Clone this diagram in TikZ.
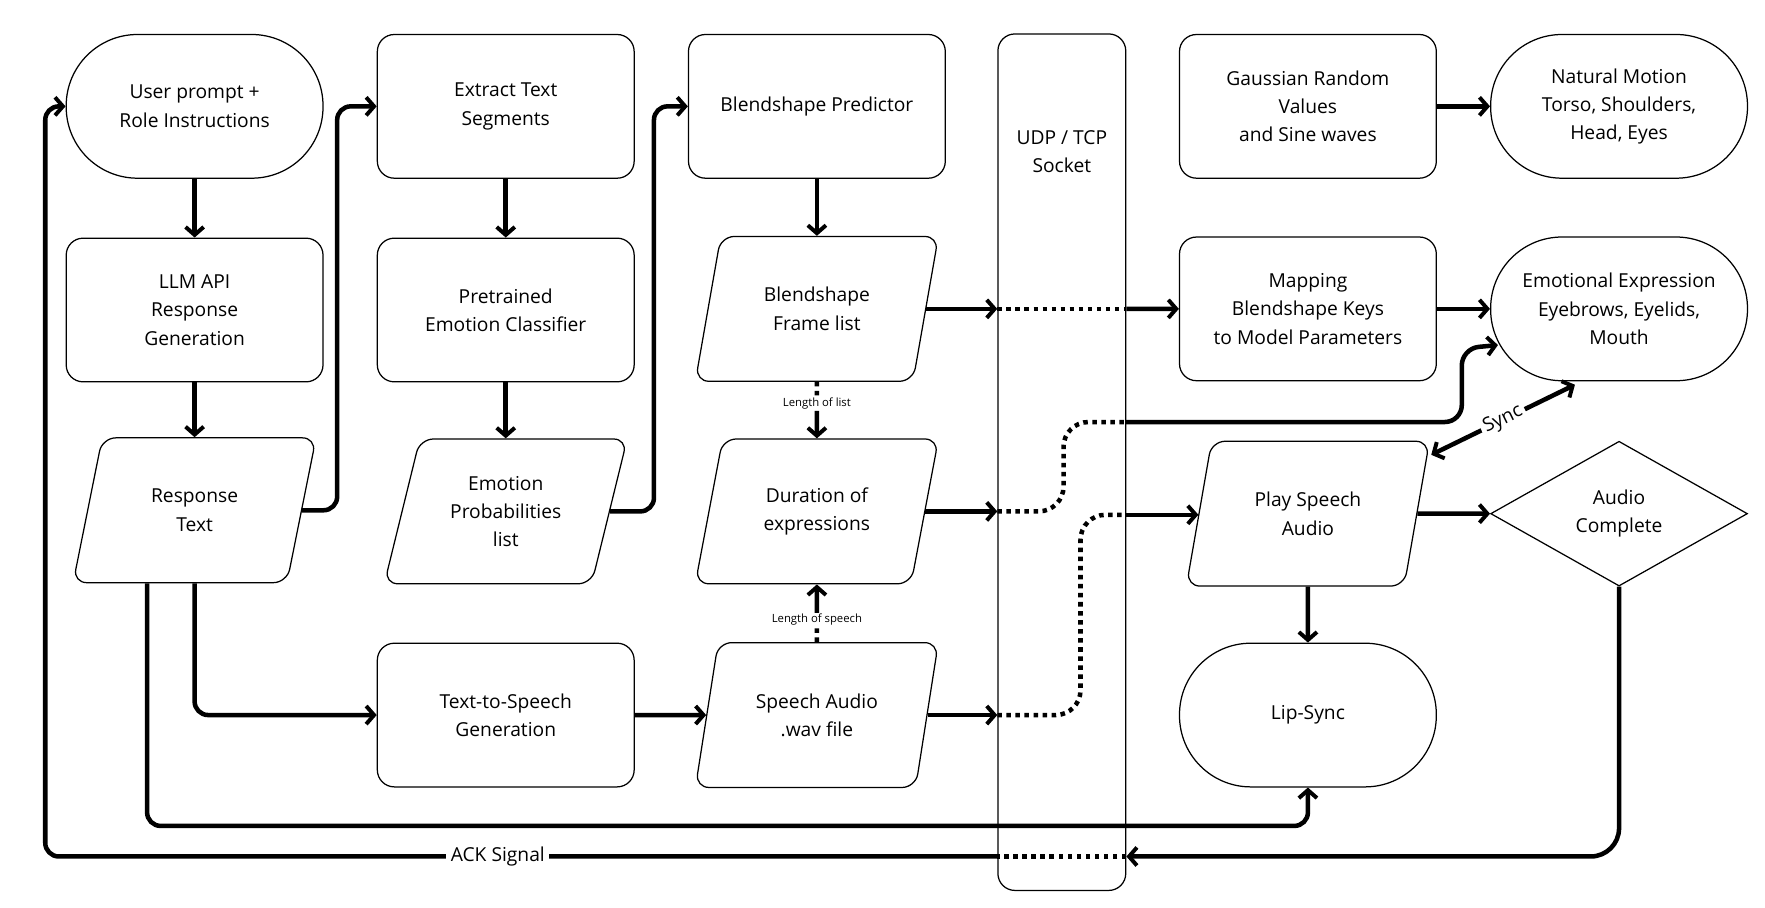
\documentclass[tikz,border=0pt]{standalone}
\usepackage{fontspec}
\setmainfont{Open Sans}
\usetikzlibrary{calc,shapes.geometric,arrows.meta}

\tikzset{
  box/.style={draw, line width=1.1pt, rounded corners=15pt, minimum width=227pt, minimum height=127pt, align=center, inner sep=2pt},
  pill/.style={box, rounded corners=63pt},
  para/.style={draw, line width=1.1pt, rounded corners=12pt, trapezium, trapezium left angle=72, trapezium right angle=108, trapezium stretches=true, minimum width=215pt, minimum height=128pt, align=center, inner sep=0pt},
  tip/.tip={Straight Barb[length=7pt,width=16pt,line width=3.5pt]},
  flow/.style={line width=4pt, -tip},
  dots/.style={line width=4pt, dash pattern=on 4pt off 4pt},
  small/.style={font=\fontsize{10}{12}\selectfont, fill=white, inner sep=1pt}
}

\begin{document}
\begin{tikzpicture}[x=1pt,y=-1pt, font=\fontsize{17}{25}\selectfont]
  \useasboundingbox (0,0) rectangle (1560,802);

  % socket column
  \node[draw, line width=1.1pt, rounded corners=15pt, minimum width=113pt, minimum height=757pt] (sock) at (938.5,408.5) {};
  \node[align=center] (socktxt) at (938.5,134) {UDP / TCP\\Socket};

  % first column
  \node[pill] (user) at (172,94) {User prompt +\\Role Instructions};
  \node[box] (llm) at (172,274) {LLM API\\Response\\Generation};
  \node[para] (resp) at (172,451) {Response\\Text};

  % second column
  \node[box] (extr) at (447,94) {Extract Text\\Segments};
  \node[box] (clas) at (447,274) {Pretrained\\Emotion Classifier};
  \node[para] (prob) at (447,452) {Emotion\\Probabilities\\list};
  \node[box] (tts) at (447,632) {Text-to-Speech\\Generation};

  % third column
  \node[box] (pred) at (722,94) {Blendshape Predictor};
  \node[para] (frame) at (722,273) {Blendshape\\Frame list};
  \node[para] (dur) at (722,452) {Duration of\\expressions};
  \node[para] (wav) at (722,632) {Speech Audio\\.wav file};

  % avatar side
  \node[box] (gauss) at (1156,94) {Gaussian Random\\Values\\and Sine waves};
  \node[box] (map) at (1156,273) {Mapping\\Blendshape Keys\\to Model Parameters};
  \node[para] (play) at (1156,454) {Play Speech\\Audio};
  \node[pill] (lip) at (1156,632) {Lip-Sync};
  \node[pill] (nat) at (1431,94) {Natural Motion\\Torso, Shoulders,\\Head, Eyes};
  \node[pill] (emo) at (1431,273) {Emotional Expression\\Eyebrows, Eyelids,\\Mouth};
  \node[draw, line width=1.1pt, diamond, aspect=1.77, minimum width=227pt, minimum height=128pt, inner sep=0pt, align=center] (done) at (1431,454) {Audio\\Complete};

  % arrows
  \draw[flow] (user) -- (llm);
  \draw[flow] (llm) -- (resp);
  \draw[flow] (extr) -- (clas);
  \draw[flow] (clas) -- (prob);
  \draw[flow] (pred) -- (frame);
  \draw[flow] (tts) -- (wav);
  \draw[flow] (gauss) -- (nat);
  \draw[flow] (map) -- (emo);
  \draw[flow] (play) -- (done);
  \draw[flow] (play) -- (lip);
  \draw[flow, rounded corners=12pt] (resp.east) -| (298,150) |- (extr.west);
  \draw[flow, rounded corners=12pt] (prob.east) -| (578,150) |- (pred.west);
  \draw[flow, rounded corners=12pt] (resp.south) |- (tts.west);
  \draw[flow, rounded corners=12pt] ($(resp.south)+(-42,0)$) |- (730,730) -| (lip.south);

  % dashed lengths
  \node[small] (lenlist) at (722,357) {Length of list};
  \node[small] (lenspeech) at (722,548) {Length of speech};
  \draw[dots] (frame.south) -- (lenlist.north);
  \draw[flow] (lenlist.south) -- (dur.north);
  \draw[dots] (wav.north) -- (lenspeech.south);
  \draw[flow] (lenspeech.north) -- (dur.south);

  % through socket
  \draw[flow] (frame.east) -- (sock.west |- frame.east);
  \draw[dots] (sock.west |- frame.east) -- (sock.east |- frame.east);
  \draw[flow] (sock.east |- frame.east) -- (map.west);

  \coordinate (durin) at (sock.west |- dur.east);
  \coordinate (durout) at (995,373);
  \draw[flow] (dur.east) -- (durin);
  \draw[dots, rounded corners=22pt] (durin) -| (940,373) -- (durout);
  \draw[flow, rounded corners=15pt] (durout) -| (1292,308) -- ($(emo.west)+(7,32)$);

  \coordinate (wavin) at (sock.west |- wav.east);
  \coordinate (wavout) at (995,455);
  \draw[flow] (wav.east) -- (wavin);
  \draw[dots, rounded corners=22pt] (wavin) -| (955,455) -- (wavout);
  \draw[flow] (wavout) -- (wavout -| play.west);

  \draw[line width=4pt, tip-tip]
    ($(play.center)+(109,-52)$) -- node[sloped, fill=white, inner sep=3pt] (sync) {Sync} ($(emo.south)+(-39,3)$);

  % ack back to start
  \coordinate (ackin) at (sock.east |- 0,757);
  \coordinate (ackout) at (sock.west |- 0,757);
  \draw[flow, rounded corners=25pt] (done.south) |- (ackin);
  \draw[dots] (ackin) -- (ackout);
  \draw[flow, rounded corners=12pt] (ackout) -| (40,150) |- (user.west);
  \node[fill=white, inner sep=4pt] (ack) at (440,757) {ACK Signal};
\end{tikzpicture}
\end{document}
